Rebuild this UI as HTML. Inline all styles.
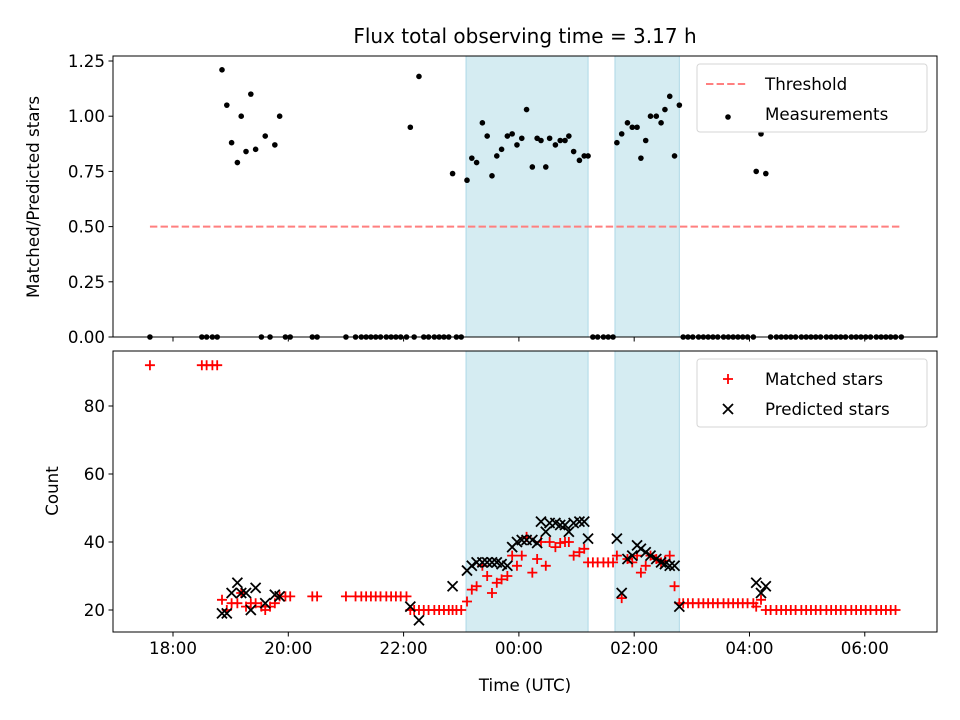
<!DOCTYPE html>
<html><head><meta charset="utf-8"><style>
body{margin:0;background:#fff}
svg{display:block;font-family:"DejaVu Sans","Liberation Sans",sans-serif}
</style></head><body>
<svg id="chart" width="960" height="720" xmlns="http://www.w3.org/2000/svg"></svg>
<script>
// times: minutes after 18:00 UTC
const times=[-24,30,35,41,46,51,56,61,67,71,76,81,86,92,96,101,106,111,117,122,145,150,180,190,196,201,206,211,216,222,227,232,237,243,247,251,256,261,266,272,277,282,287,291,295,300,306,311,316,322,327,332,337,342,348,353,358,363,368,374,379,383,388,392,398,403,408,412,417,423,428,432,437,442,448,453,458,462,467,473,478,483,487,492,497,503,508,512,517,522,527,531,536,541,547,552,557,562,567,573,578,583,588,593,598,604,607,612,617,622,628,633,638,643,648,654,659,664,669,674,680,685,690,695,700,706,711,716,721,726,732,737,742,747,752,758];
const matched=[92,92,92,92,92,23,20,22,22,25,21,22,22,21,20,21,22,24,24,24,24,24,24,24,24,24,24,24,24,24,24,24,24,24,20,20,20,20,20,20,20,20,20,20,20,20,22.5,26,27,33,30,25,28,29,30,36,33,36,41.5,31,35,40,33,40,38.5,39.7,40,40,36,37,38,34,34,34,34,34,34,36,23.5,35,34,36,31,33,36,35,34,34.5,36,27,22,22,22,22,22,22,22,22,22,22,22,22,22,22,22,22,21,23,20,20,20,20,20,20,20,20,20,20,20,20,20,20,20,20,20,20,20,20,20,20,20,20,20,20,20];
const predicted=[null,null,null,null,null,19,19,25,28,25,25,20,26.5,null,22,null,24.5,24,null,null,null,null,null,null,null,null,null,null,null,null,null,null,null,null,21,null,17,null,null,null,null,null,null,27,null,null,31.6,33,34,34,34,34,34,33.5,33,38.5,40,40.6,40.6,40.6,39.7,46,43,45.6,45.6,45,45,43,45.6,46,46,41,null,null,null,null,null,41,25,35,36,39,38,37,36,35,34,33.5,33,33,21,null,null,null,null,null,null,null,null,null,null,null,null,null,null,null,28,25,27,null,null,null,null,null,null,null,null,null,null,null,null,null,null,null,null,null,null,null,null,null,null,null,null,null];
const ratio=[0,0,0,0,0,1.21,1.05,0.88,0.79,1.0,0.84,1.10,0.85,0,0.91,0,0.87,1.0,0,0,0,0,0,0,0,0,0,0,0,0,0,0,0,0,0.95,0,1.18,0,0,0,0,0,0,0.74,0,0,0.71,0.81,0.79,0.97,0.91,0.73,0.82,0.85,0.91,0.92,0.87,0.90,1.03,0.77,0.90,0.89,0.77,0.90,0.87,0.89,0.89,0.91,0.84,0.80,0.82,0.82,0,0,0,0,0,0.88,0.92,0.97,0.95,0.95,0.81,0.89,1.0,1.0,0.97,1.03,1.09,0.82,1.05,0,0,0,0,0,0,0,0,0,0,0,0,0,0,0,0.75,0.92,0.74,0,0,0,0,0,0,0,0,0,0,0,0,0,0,0,0,0,0,0,0,0,0,0,0,0,0,0];
const threshold=0.5;
const spans=[[305,432],[460,527]];
const xTicks=[0,120,240,360,480,600,720];
const xTickLabels=["18:00","20:00","22:00","00:00","02:00","04:00","06:00"];
const topTicks=[0,0.25,0.5,0.75,1.0,1.25];
const botTicks=[20,40,60,80];

const NS="http://www.w3.org/2000/svg";
const svg=document.getElementById('chart');
function el(tag,attrs,parent,text){const e=document.createElementNS(NS,tag);for(const k in attrs)e.setAttribute(k,attrs[k]);if(text!==undefined)e.textContent=text;(parent||svg).appendChild(e);return e;}
const L=113,R=937,T1=56,B1=337,T2=351,B2=632;
const xs=m=>173+m*0.9608;
const y1=r=>337-r*220.8;
const y2=c=>610-(c-20)*3.4;
const FS='16.7';

el('rect',{x:0,y:0,width:960,height:720,fill:'#fff'});
const t=el('text',{x:525,y:43,'text-anchor':'middle','font-size':'20',fill:'#000'},svg,'Flux total observing time = 3.17 h');



[[T1,B1],[T2,B2]].forEach(([a,b])=>{
  spans.forEach(s=>{
    const r=el('rect',{x:xs(s[0]),y:a,width:xs(s[1])-xs(s[0]),height:b-a,fill:'#d5ecf2',stroke:'#add8e6','stroke-width':1});
    
    
  });
});

const th=el('line',{x1:xs(times[0]),x2:xs(times[times.length-1]),y1:y1(threshold),y2:y1(threshold),stroke:'#ff7f7f','stroke-width':2,'stroke-dasharray':'7.4,3.2'});



times.forEach((m,i)=>{
  const c=el('circle',{cx:xs(m),cy:y1(ratio[i]),r:2.8,fill:'#000'});
  
  
});
times.forEach((m,i)=>{
  const x=xs(m),y=y2(matched[i]);
  const p=el('path',{d:`M${x-5},${y}H${x+5}M${x},${y-5}V${y+5}`,stroke:'#f00','stroke-width':1.8,fill:'none'});
  
  
});
times.forEach((m,i)=>{
  if(predicted[i]===null)return;
  const x=xs(m),y=y2(predicted[i]);
  const p=el('path',{d:`M${x-5},${y-5}L${x+5},${y+5}M${x-5},${y+5}L${x+5},${y-5}`,stroke:'#000','stroke-width':1.8,fill:'none'});
  
  
});

[[T1,B1,'top-axes'],[T2,B2,'bottom-axes']].forEach(([a,b,n])=>{
  const r=el('rect',{x:L,y:a,width:R-L,height:b-a,fill:'none',stroke:'#000','stroke-width':1});
  
  
  xTicks.forEach(m=>{el('line',{x1:xs(m),x2:xs(m),y1:b,y2:b+4.5,stroke:'#000'});});
});
xTicks.forEach((m,i)=>{
  const tx=el('text',{x:xs(m),y:654,'text-anchor':'middle','font-size':FS,fill:'#000'},svg,xTickLabels[i]);
  
  
});
topTicks.forEach(v=>{
  el('line',{x1:L-4.5,x2:L,y1:y1(v),y2:y1(v),stroke:'#000'});
  const tx=el('text',{x:L-8,y:y1(v)+6,'text-anchor':'end','font-size':FS,fill:'#000'},svg,v.toFixed(2));
  
  
});
botTicks.forEach(v=>{
  el('line',{x1:L-4.5,x2:L,y1:y2(v),y2:y2(v),stroke:'#000'});
  const tx=el('text',{x:L-8,y:y2(v)+6,'text-anchor':'end','font-size':FS,fill:'#000'},svg,String(v));
  
  
});
let a=el('text',{x:525,y:691,'text-anchor':'middle','font-size':FS,fill:'#000'},svg,'Time (UTC)');


a=el('text',{x:0,y:0,'text-anchor':'middle','font-size':FS,fill:'#000',transform:'translate(39,197) rotate(-90)'},svg,'Matched/Predicted stars');


a=el('text',{x:0,y:0,'text-anchor':'middle','font-size':FS,fill:'#000',transform:'translate(58,491) rotate(-90)'},svg,'Count');



function legend(y0,name,items){
  const g=el('g',{});
  
  
  el('rect',{x:697,y:y0,width:230,height:68,rx:3,fill:'#fff','fill-opacity':0.8,stroke:'#d6d6d6'},g);
  items.forEach((it,i)=>{
    const cy=y0+20+i*30;
    it.draw(g,728,cy);
    const tx=el('text',{x:765,y:cy+6,'font-size':FS,fill:'#000'},g,it.label);
    
    
  });
}
legend(64,'top-legend',[
  {label:'Threshold',draw:(g,x,y)=>el('line',{x1:x-22,x2:x+20,y1:y,y2:y,stroke:'#ff7f7f','stroke-width':2,'stroke-dasharray':'7.4,3.2'},g)},
  {label:'Measurements',draw:(g,x,y)=>el('circle',{cx:x,cy:y+3,r:2.8,fill:'#000'},g)}
]);
legend(359,'bottom-legend',[
  {label:'Matched stars',draw:(g,x,y)=>el('path',{d:`M${x-5},${y}H${x+5}M${x},${y-5}V${y+5}`,stroke:'#f00','stroke-width':1.8},g)},
  {label:'Predicted stars',draw:(g,x,y)=>el('path',{d:`M${x-5},${y-5}L${x+5},${y+5}M${x-5},${y+5}L${x+5},${y-5}`,stroke:'#000','stroke-width':1.8},g)}
]);
</script>
</body></html>
